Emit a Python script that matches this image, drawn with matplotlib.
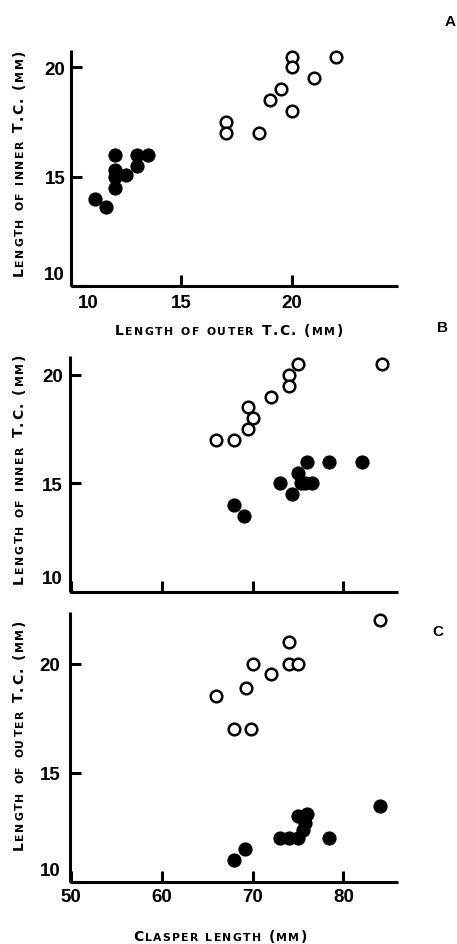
import matplotlib
matplotlib.use("Agg")
import matplotlib.pyplot as plt

# ---------------- data ----------------
# Panel A: length of outer T.C. (x) vs length of inner T.C. (y)
a_closed_x = [11.1, 11.6, 12.0, 12.0, 12.0, 12.0, 12.5, 13.0, 13.0, 13.5]
a_closed_y = [14.0, 13.6, 16.0, 15.3, 15.0, 14.5, 15.1, 16.0, 15.5, 16.0]
a_open_x = [17.0, 17.0, 18.5, 19.0, 19.5, 20.0, 20.0, 20.0, 21.0, 22.0]
a_open_y = [17.5, 17.0, 17.0, 18.5, 19.0, 20.5, 20.0, 18.0, 19.5, 20.5]

# Panel B: clasper length (x) vs length of inner T.C. (y)
b_closed_x = [68.0, 69.0, 73.0, 74.3, 75.0, 75.3, 75.8, 76.0, 76.5, 78.4, 82.0]
b_closed_y = [14.0, 13.5, 15.0, 14.5, 15.5, 15.0, 15.0, 16.0, 15.0, 16.0, 16.0]
b_open_x = [66.0, 68.0, 69.5, 69.5, 70.0, 72.0, 74.0, 74.0, 75.0, 84.2]
b_open_y = [17.0, 17.0, 18.5, 17.5, 18.0, 19.0, 20.0, 19.5, 20.5, 20.5]

# Panel C: clasper length (x) vs length of outer T.C. (y)
c_closed_x = [68.0, 69.2, 73.0, 74.0, 75.0, 75.0, 75.5, 75.8, 76.0, 78.4, 84.0]
c_closed_y = [11.0, 11.5, 12.0, 12.0, 12.0, 13.0, 12.4, 12.7, 13.1, 12.0, 13.5]
c_open_x = [66.0, 68.0, 69.3, 69.8, 70.0, 72.0, 74.0, 74.0, 75.0, 84.0]
c_open_y = [18.5, 17.0, 18.9, 17.0, 20.0, 19.5, 21.0, 20.0, 20.0, 22.0]

ticks_outer_inner = [10, 15, 20]
ticks_clasper = [50, 60, 70, 80]

# ---------------- figure ----------------
W, H = 457, 945
fig = plt.figure(figsize=(W / 100, H / 100), dpi=100)
renderer = fig.canvas.get_renderer()

TICK_FAMILY = ["Liberation Sans Narrow", "Liberation Sans", "DejaVu Sans"]
TICK_FONT = dict(family=TICK_FAMILY, weight="bold", size=13.5)
LBL_FAMILY = ["DejaVu Sans"]


def px_axes(left, top, right, bottom):
    return fig.add_axes([left / W, 1 - bottom / H, (right - left) / W, (bottom - top) / H])


def style(ax):
    for side in ("top", "right"):
        ax.spines[side].set_visible(False)
    for side in ("left", "bottom"):
        ax.spines[side].set_linewidth(2.2)
        ax.spines[side].set_capstyle("butt")
    ax.tick_params(direction="in", length=8, width=2.2, labelsize=13.5)
    for lab in ax.get_xticklabels() + ax.get_yticklabels():
        lab.set_fontfamily(TICK_FAMILY)
        lab.set_fontweight("bold")


def plot_pts(ax, cx, cy, ox, oy):
    ax.scatter(ox, oy, s=70, facecolors="white", edgecolors="black", linewidths=1.8, zorder=3, clip_on=False)
    ax.scatter(cx, cy, s=105, color="black", linewidths=0, zorder=4, clip_on=False)


def smallcaps(cx, cy, s, length, big=10, small=7.8, rotation=0):
    items = []
    for ch in s:
        if ch.islower():
            items.append((ch.upper(), small))
        elif ch == " ":
            items.append((ch, small))
        else:
            items.append((ch, big))
    widths = []
    for ch, sz in items:
        if ch == " ":
            widths.append(sz * 100 / 72 * 0.45)
            continue
        t = fig.text(0, 0, ch, fontsize=sz, family=LBL_FAMILY, weight="bold")
        widths.append(t.get_window_extent(renderer).width)
        t.remove()
    natural = sum(widths)
    track = (length - natural) / (len(items) - 1)
    cap = 0.73 * big * 100 / 72
    pos = -length / 2
    for (ch, sz), w in zip(items, widths):
        if ch != " ":
            if rotation == 0:
                x = cx + pos
                y = cy + cap / 2
                fig.text(x / W, 1 - y / H, ch, fontsize=sz, family=LBL_FAMILY, weight="bold",
                         ha="left", va="baseline")
            else:
                x = cx + cap / 2
                y = cy - pos
                fig.text(x / W, 1 - y / H, ch, fontsize=sz, family=LBL_FAMILY, weight="bold",
                         ha="left", va="baseline", rotation=90, rotation_mode="anchor")
        pos += w + track


# Panel A
axA = px_axes(71, 51, 398, 287)
plot_pts(axA, a_closed_x, a_closed_y, a_open_x, a_open_y)
axA.set_xlim(10.15, 24.8)
axA.set_ylim(10.0, 20.8)
axA.set_xticks(ticks_outer_inner)
axA.set_xticklabels(["", "15", "20"])
axA.set_yticks(ticks_outer_inner)
axA.set_yticklabels(["", "15", "20"])
style(axA)
axA.tick_params(axis="x", pad=6)
axA.tick_params(axis="y", pad=4)
axA.annotate("10", xy=(10.15, 0), xycoords=("data", "axes fraction"), xytext=(14, -8),
             textcoords="offset pixels", ha="center", va="top", **TICK_FONT)
axA.annotate("10", xy=(0, 10), xycoords=("axes fraction", "data"), xytext=(-6, 11),
             textcoords="offset pixels", ha="right", va="center", **TICK_FONT)

# Panel B
axB = px_axes(70, 357, 398, 593)
plot_pts(axB, b_closed_x, b_closed_y, b_open_x, b_open_y)
axB.set_xlim(49.9, 86.0)
axB.set_ylim(10.05, 20.87)
axB.set_xticks(ticks_clasper)
axB.set_xticklabels([])
axB.set_yticks(ticks_outer_inner)
axB.set_yticklabels(["", "15", "20"])
style(axB)
axB.tick_params(axis="y", pad=5)
axB.annotate("10", xy=(0, 10), xycoords=("axes fraction", "data"), xytext=(-7, 13),
             textcoords="offset pixels", ha="right", va="center", **TICK_FONT)

# Panel C
axC = px_axes(70, 613, 398, 883)
plot_pts(axC, c_closed_x, c_closed_y, c_open_x, c_open_y)
axC.set_xlim(49.9, 86.0)
axC.set_ylim(10.09, 22.36)
axC.set_xticks(ticks_clasper)
axC.set_xticklabels(["50", "60", "70", "80"])
axC.set_yticks(ticks_outer_inner)
axC.set_yticklabels(["", "15", "20"])
style(axC)
axC.tick_params(axis="x", pad=4)
axC.tick_params(axis="y", pad=7)
axC.annotate("10", xy=(0, 10.09), xycoords=("axes fraction", "data"), xytext=(-9, 10),
             textcoords="offset pixels", ha="right", va="center", **TICK_FONT)

# Axis labels (small caps)
smallcaps(229, 330, "Length of outer T.C. (mm)", 228)
smallcaps(18, 163, "Length of inner T.C. (mm)", 227, rotation=90)
smallcaps(18, 469, "Length of inner T.C. (mm)", 230, rotation=90)
smallcaps(18, 735, "Length of outer T.C. (mm)", 230, rotation=90)
smallcaps(220, 936, "Clasper length (mm)", 174)

# Panel letters
for letter, (x, y) in zip("ABC", [(450, 22), (442, 328), (438, 632)]):
    fig.text(x / W, 1 - y / H, letter, fontsize=11, family=["Liberation Sans", "DejaVu Sans"],
             weight="bold", ha="center", va="center")

fig.savefig("out.png", dpi=100)
